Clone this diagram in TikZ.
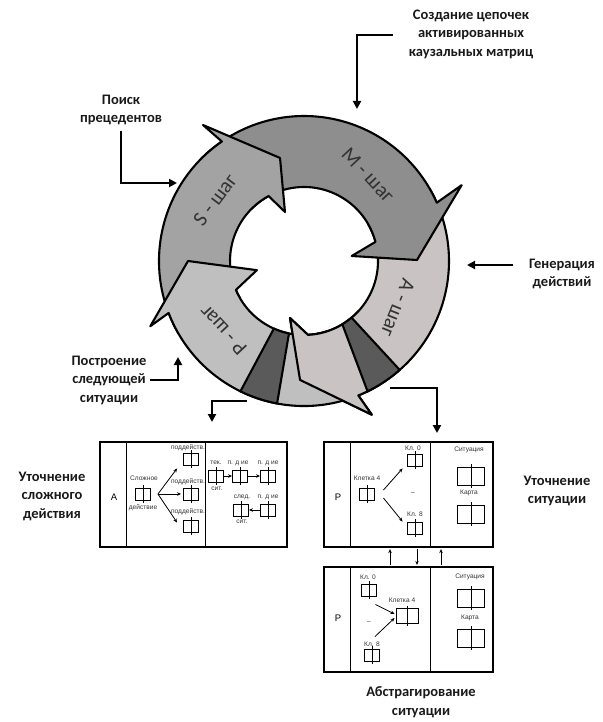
\documentclass[tikz,border=0pt]{standalone}
\usepackage{fontspec}
\setmainfont{Carlito}
\newfontfamily\smallsans{Liberation Sans}
\usetikzlibrary{arrows.meta}

\definecolor{afill}{HTML}{C9C3C3}
\definecolor{mfill}{HTML}{8E8E8E}
\definecolor{sfill}{HTML}{A3A3A3}
\definecolor{pfill}{HTML}{BFBFBF}
\definecolor{darkfill}{HTML}{5A5A5A}

\begin{document}
\begin{tikzpicture}[x=1pt,y=-1pt,
  lbl/.style={font=\bfseries\fontsize{14.5}{18.5}\selectfont, align=center, text=black!90},
  callout/.style={line width=2.4pt, -{Triangle[length=8pt,width=8pt]}},
  ring/.style={draw=black, line width=2.1pt, line join=round},
  steptext/.style={font=\fontsize{21}{21}\selectfont, text=black!80},
  tiny/.style={font=\smallsans\fontsize{6.6}{7}\selectfont, inner sep=0pt, text=black!80},
  letter/.style={font=\smallsans\fontsize{9.5}{9.5}\selectfont, inner sep=0pt},
  panel/.style={draw, line width=1.2pt, inner sep=0pt},
  panelline/.style={line width=1.2pt},
  cell/.style={draw, line width=0.9pt, minimum width=15pt, minimum height=12pt, inner sep=0pt,
    append after command={(\tikzlastnode.north) edge[draw, line width=0.9pt, shorten <=-2.5pt, shorten >=-2.5pt] (\tikzlastnode.south)}},
  midcell/.style={cell, minimum width=22pt, minimum height=15pt},
  bigcell/.style={cell, minimum width=27pt, minimum height=18pt},
  arr/.style={line width=0.8pt, -{Stealth[length=4pt,width=3.5pt]}}
]
\useasboundingbox (0,0) rectangle (602,722);

% ---------------- cycle of steps ----------------
\begin{scope}[shift={(304,261)}]
  \def\Apath{(-30:145) arc[start angle=-30, end angle=68, radius=145] -- (66.2:168) -- (91.9:119) -- (103.8:58.7) -- (86.9:74) arc[start angle=86.9, end angle=-30, radius=74] -- cycle}
  \path[ring, fill=afill] \Apath;
  \path[ring, fill=mfill] (225:145) arc[start angle=225, end angle=336.3, radius=145] -- (334.3:175) -- (359.5:113) -- (354:48) -- (345:74) arc[start angle=345, end angle=225, radius=74] -- cycle;
  \path[ring, fill=sfill] (150:145) arc[start angle=150, end angle=235.5, radius=145] -- (233.4:169.4) -- (256.9:105.8) -- (248.8:52.6) -- (241.4:74) arc[start angle=241.4, end angle=150, radius=74] -- cycle;
  \path[ring, fill=pfill] (72:145) arc[start angle=72, end angle=159, radius=145] -- (157:167) -- (180:116) -- (169:48) -- (157:74) arc[start angle=157, end angle=72, radius=74] -- cycle;
  % the head of the A step lies over the tail of the P step
  \begin{scope}
    \clip (-21,49) rectangle (76,164);
    \path[ring, fill=afill] \Apath;
  \end{scope}
  % dark joints
  \path[ring, fill=darkfill] (48.7:145) arc[start angle=48.7, end angle=64, radius=145] -- (58.8:74) arc[start angle=58.8, end angle=50, radius=74] -- cycle;
  \path[ring, fill=darkfill] (100.7:145) arc[start angle=100.7, end angle=116, radius=145] -- (114:74) arc[start angle=114, end angle=101.7, radius=74] -- cycle;

  \node[steptext, rotate=-47] (mstep) at (64,-86) {М - шаг};
  \node[steptext, rotate=-112] (astep) at (94,47) {А - шаг};
  \node[steptext, rotate=53] (sstep) at (-89,-61) {S - шаг};
  \node[steptext, rotate=133] (pstep) at (-81,69) {Р - шаг};
\end{scope}

% ---------------- callouts ----------------
\node[lbl] (chain) at (471,34) {Создание цепочек\\активированных\\каузальных матриц};
\coordinate (chainS) at (393,35);
\coordinate (chainT) at (357,109);
\draw[callout] (chainS) -| (chainT);

\node[lbl] (prec) at (121,110) {Поиск\\прецедентов};
\coordinate (precT) at (177,183);
\draw[callout] ([yshift=-2pt]prec.south) |- (precT);

\node[lbl] (gen) at (562,274) {Генерация\\действий};
\coordinate (genS) at (513,265);
\coordinate (genT) at (467,265);
\draw[callout] (genS) -- (genT);

\node[lbl] (next) at (109,380) {Построение\\следующей\\ситуации};
\coordinate (nextT) at (178,357);
\draw[callout] (next.east) -| (nextT);

\coordinate (blS) at (247,401);
\coordinate (blT) at (212,422);
\draw[callout] (blS) -| (blT);

\coordinate (brS) at (390,388);
\coordinate (brT) at (437,433);
\draw[callout] (brS) -| (brT);

% ---------------- refinement of a complex action ----------------
\node[panel, minimum width=187pt, minimum height=105pt] (box1) at (193.5,494.5) {};
\draw[panelline] ([xshift=27pt]box1.north west) -- ([xshift=27pt]box1.south west);
\draw[panelline] ([xshift=106pt]box1.north west) -- ([xshift=106pt]box1.south west);
\node[letter] (la) at (114,497) {А};

\node[cell] (c0) at (143,494) {};
\node[tiny] (c0t) at (144,478) {Сложное};
\node[tiny] (c0b) at (143,508) {действие};
\node[cell] (s1) at (191,459) {};
\node[tiny] (s1t) at (188,448) {поддейств.};
\node[cell] (s2) at (191,494) {};
\node[tiny] (s2t) at (188,482) {поддейств.};
\node[cell] (s3) at (191,526) {};
\node[tiny] (s3t) at (188,512) {поддейств.};
\draw[arr] ([xshift=7pt]c0.east) -- ([shift={(-6,3)}]s1.south west);
\draw[arr] ([xshift=7pt]c0.east) -- ([xshift=-2pt]s2.west);
\draw[arr] ([xshift=7pt]c0.east) -- ([shift={(-6,3)}]s3.north west);

\node[cell] (t0) at (216,476) {};
\node[cell] (t1) at (240,476) {};
\node[cell] (t2) at (268,476) {};
\node[tiny] (t0t) at (216,463) {тек.};
\node[tiny] (t0b) at (217,489) {сит.};
\node[tiny] (t1t) at (238,463) {п. д ие};
\node[tiny] (t2t) at (268,463) {п. д ие};
\draw[arr] (t0.east) -- (t1.west);
\draw[arr] (t1.east) -- (t2.west);

\node[cell] (u1) at (241,510) {};
\node[cell] (u2) at (268,510) {};
\node[tiny] (u1t) at (242,497) {след.};
\node[tiny] (u1b) at (242,522) {сит.};
\node[tiny] (u2t) at (268,497) {п. д ие};
\draw[arr] (u2.west) -- (u1.east);

% ---------------- refinement of a situation ----------------
\node[panel, minimum width=169pt, minimum height=105pt] (box2) at (408.5,494.5) {};
\draw[panelline] ([xshift=27pt]box2.north west) -- ([xshift=27pt]box2.south west);
\draw[panelline] ([xshift=107pt]box2.north west) -- ([xshift=107pt]box2.south west);
\node[letter] (lp2) at (338,497) {Р};

\node[cell] (k4) at (367,494) {};
\node[tiny] (k4t) at (367,478) {Клетка 4};
\node[cell] (k0) at (415,460) {};
\node[tiny] (k0t) at (413,448) {Кл. 0};
\node[tiny] (kdots) at (413,494) {–};
\node[cell] (k8) at (415,528) {};
\node[tiny] (k8t) at (415,514) {Кл. 8};
\draw[arr] ([shift={(8.5,-4)}]k4.east) -- ([shift={(-4.5,2)}]k0.south west);
\draw[arr] ([shift={(8.5,4)}]k4.east) -- ([shift={(-4.5,0)}]k8.north west);

\node[bigcell] (sit2) at (471,476) {};
\node[tiny] (sit2t) at (469,450) {Ситуация};
\node[bigcell] (map2) at (471,514) {};
\node[tiny] (map2t) at (469,493) {Карта};

% ---------------- abstraction of a situation ----------------
\node[panel, minimum width=169pt, minimum height=105pt] (box3) at (408.5,619.5) {};
\draw[panelline] ([xshift=27pt]box3.north west) -- ([xshift=27pt]box3.south west);
\draw[panelline] ([xshift=107pt]box3.north west) -- ([xshift=107pt]box3.south west);
\node[letter] (lp3) at (338,618) {Р};

\node[cell] (m0) at (369,590) {};
\node[tiny] (m0t) at (368,577) {Кл. 0};
\node[midcell] (mk4) at (407,616) {};
\node[tiny] (mk4t) at (402,600) {Клетка 4};
\node[tiny] (mdots) at (369,623) {–};
\node[cell] (m8) at (372,655) {};
\node[tiny] (m8t) at (372,644) {Кл. 8};
\draw[arr] ([shift={(-1.5,8)}]m0.south east) -- ([shift={(-1,-2)}]mk4.west);
\draw[arr] ([shift={(3,-12)}]m8.north) -- ([shift={(-1,2)}]mk4.west);

\node[bigcell] (sit3) at (471,598) {};
\node[tiny] (sit3t) at (470,577) {Ситуация};
\node[bigcell] (map3) at (471,638) {};
\node[tiny] (map3t) at (470,618) {Карта};

% links between the two situation panels
\draw[arr, shorten <=1.5pt, shorten >=1.5pt] ([xshift=-18.5pt]box3.north) -- ([xshift=-18.5pt]box2.south);
\draw[arr, shorten <=1.5pt, shorten >=1.5pt] ([xshift=8.5pt]box2.south) -- ([xshift=8.5pt]box3.north);
\draw[arr, shorten <=1.5pt, shorten >=1.5pt] ([xshift=32.5pt]box3.north) -- ([xshift=32.5pt]box2.south);

\node[lbl] (refine1) at (52,496) {Уточнение\\сложного\\действия};
\node[lbl] (refine2) at (557,491) {Уточнение\\ситуации};
\node[lbl] (abstr) at (421,702) {Абстрагирование\\ситуации};
\end{tikzpicture}
\end{document}
